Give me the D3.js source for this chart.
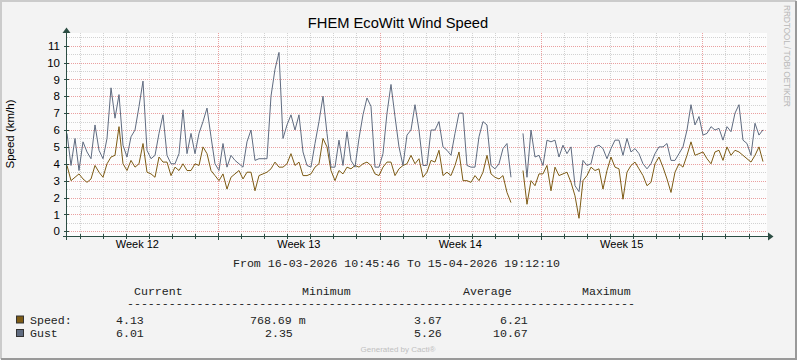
<!DOCTYPE html>
<meta charset="utf-8">
<style>
body { margin: 0; background: #f3f3f3; }
svg { display: block; }
.sans { font-family: "Liberation Sans", Arial, sans-serif; }
.mono { font-family: "Liberation Mono", "Courier New", monospace; }
</style>
<body>
<svg width="797" height="360"></svg>
<script src="https://d3js.org/d3.v7.min.js"></script>
<script>
// ---- data ----
const chartTitle = "FHEM EcoWitt Wind Speed";
const yTitle = "Speed (km/h)";
const rangeText = "From 16-03-2026 10:45:46 To 15-04-2026 19:12:10";
const startTime = new Date(2026, 2, 16, 10, 45, 46);
const endTime = new Date(2026, 3, 15, 19, 12, 10);
const stepHours = 4.1625; // sample interval of the series below

const weekLabels = ["Week 12", "Week 13", "Week 14", "Week 15"];
const weekStarts = [new Date(2026, 2, 16), new Date(2026, 2, 23), new Date(2026, 2, 30), new Date(2026, 3, 6)];
const yTicks = [0, 1, 2, 3, 4, 5, 6, 7, 8, 9, 10, 11];

const speed = [
  3.9, 3.0, 3.2, 3.4, 3.1, 2.9, 3.1, 3.9, 3.5, 3.2,
  4.0, 4.4, 4.5, 6.2, 4.0, 3.6, 4.2, 3.8, 4.0, 5.2,
  3.5, 3.4, 3.2, 4.4, 4.1, 4.1, 3.3, 3.8, 3.6, 4.0,
  3.6, 3.6, 4.0, 3.9, 5.0, 4.6, 3.6, 3.3, 3.0, 3.4,
  2.5, 3.2, 3.4, 3.6, 3.1, 3.5, 3.5, 2.4, 3.3, 3.4,
  3.5, 3.7, 4.1, 3.8, 3.8, 4.0, 4.6, 3.9, 4.1, 3.3,
  3.3, 3.4, 3.8, 4.0, 5.5, 5.0, 3.6, 3.0, 3.6, 3.4,
  3.8, 3.7, 3.9, 3.8, 4.0, 4.1, 3.9, 3.4, 3.3, 3.8,
  4.1, 4.1, 3.3, 3.7, 3.9, 4.0, 4.5, 4.0, 4.3, 3.2,
  3.5, 4.2, 4.1, 4.8, 3.3, 3.5, 3.3, 3.9, 4.7, 3.0,
  3.0, 2.9, 3.3, 3.0, 3.5, 4.5, 3.4, 3.2, 3.1, 3.3,
  2.3, 1.7, null, null, 3.6, 1.6, 3.0, 2.7, 3.4, 3.4,
  3.9, 2.4, 3.8, 3.3, 3.4, 3.5, 2.9, 2.1, 0.77, 3.0,
  3.3, 3.8, 3.6, 3.7, 2.5, 3.6, 4.4, 3.8, 3.7, 1.9,
  3.5, 3.9, 4.1, 3.7, 3.3, 2.7, 2.9, 4.0, 4.4, 3.8,
  3.1, 2.3, 3.5, 4.0, 3.8, 4.5, 5.3, 4.5, 4.6, 4.7,
  4.3, 4.0, 4.7, 4.8, 4.2, 5.0, 4.5, 4.8, 4.7, 4.5,
  4.3, 4.1, 4.5, 5.0, 4.13
];
const gust = [
  5.8, 3.9, 5.5, 3.6, 5.3, 4.7, 4.3, 6.3, 4.8, 4.3,
  5.5, 8.5, 6.7, 8.1, 5.1, 4.4, 5.6, 6.0, 7.4, 8.9,
  4.8, 4.3, 4.5, 5.8, 6.9, 4.5, 4.0, 4.0, 4.6, 7.2,
  4.6, 5.8, 4.6, 5.8, 6.5, 7.3, 5.6, 4.0, 3.6, 5.2,
  3.8, 4.5, 4.2, 4.0, 3.8, 5.3, 6.0, 4.2, 4.3, 4.3,
  4.3, 8.0, 9.6, 10.6, 5.5, 6.3, 6.9, 6.0, 6.9, 4.7,
  3.9, 3.8, 5.2, 6.5, 8.0, 5.8, 3.8, 3.8, 5.4, 3.9,
  5.9, 4.2, 3.8, 5.5, 6.9, 7.9, 7.4, 3.8, 3.8, 4.6,
  7.0, 8.7, 6.8, 5.0, 3.9, 5.7, 6.0, 7.5, 6.0, 3.9,
  3.9, 6.0, 6.0, 6.5, 5.0, 4.8, 4.5, 5.8, 7.0, 7.0,
  3.9, 3.8, 3.8, 5.6, 6.5, 6.3, 3.9, 3.7, 4.0, 4.9,
  5.2, 3.2, null, null, 5.8, 3.2, 6.0, 4.4, 4.5, 3.9,
  5.4, 5.3, 5.4, 4.4, 5.1, 4.6, 5.0, 2.7, 2.35, 4.2,
  3.9, 4.0, 5.0, 5.1, 4.9, 4.3, 4.9, 5.4, 5.4, 4.5,
  5.5, 4.7, 4.9, 4.6, 4.0, 3.7, 4.0, 4.6, 5.0, 5.0,
  5.2, 4.2, 4.2, 4.6, 5.0, 6.0, 7.5, 6.3, 6.8, 5.7,
  5.8, 6.2, 6.0, 6.1, 5.4, 6.2, 5.9, 7.0, 7.5, 5.4,
  5.2, 4.5, 6.4, 5.7, 6.01
];

const legendHeads = ["Current", "Minimum", "Average", "Maximum"];
const seriesNames = ["Speed:", "Gust"];
const seriesColors = ["#7d5b14", "#5f6b80"];
const speedStats = ["4.13", "768.69 m", "3.67", "6.21"];
const gustStats = ["6.01", "2.35", "5.26", "10.67"];

// ---- drawing ----
const svg = d3.select("svg");
const axisColor = "#2c4d43";
const crisp = v => Math.round(v) + 0.5;

const x = d3.scaleTime().domain([startTime, endTime]).range([67, 767]);
const y = d3.scaleLinear().domain([-0.28, 11.75]).range([236, 33]);

// background + shaded border
svg.append("rect").attr("width", 797).attr("height", 360).attr("fill", "#f3f3f3");
svg.append("path").attr("d", "M1,359V1H796").attr("fill", "none").attr("stroke", "#cbcbcb").attr("stroke-width", 2);
svg.append("path").attr("d", "M1,359H796V1").attr("fill", "none").attr("stroke", "#999999").attr("stroke-width", 2);

// canvas
svg.append("rect").attr("x", 67).attr("y", 33).attr("width", 700).attr("height", 203).attr("fill", "#fdfdfd");

// grid
const grid = svg.append("g");
const halfSteps = d3.range(0.5, 11.75, 1);
const days = d3.timeDay.range(d3.timeDay.ceil(startTime), endTime);
const mondays = d3.timeMonday.range(d3.timeDay.ceil(startTime), endTime);

grid.selectAll(".minorY").data(halfSteps).join("line")
  .attr("x1", 67).attr("x2", 767)
  .attr("y1", d => crisp(y(d))).attr("y2", d => crisp(y(d)))
  .attr("stroke", "#d2d2d2").attr("stroke-dasharray", "1,1");
grid.selectAll(".minorX").data(days.filter(d => d.getDay() !== 1)).join("line")
  .attr("x1", d => crisp(x(d))).attr("x2", d => crisp(x(d)))
  .attr("y1", 33).attr("y2", 236)
  .attr("stroke", "#d2d2d2").attr("stroke-dasharray", "1,1");
grid.selectAll(".majorY").data(yTicks).join("line")
  .attr("x1", 67).attr("x2", 767)
  .attr("y1", d => crisp(y(d))).attr("y2", d => crisp(y(d)))
  .attr("stroke", "#eaa0a0").attr("stroke-dasharray", "1,1");
grid.selectAll(".majorX").data(mondays).join("line")
  .attr("x1", d => crisp(x(d))).attr("x2", d => crisp(x(d)))
  .attr("y1", 33).attr("y2", 236)
  .attr("stroke", "#eaa0a0").attr("stroke-dasharray", "1,1");

// series
const toPoints = arr => arr.map((v, i) => ({ t: new Date(+startTime + i * stepHours * 3600e3), v }));
const line = d3.line().defined(d => d.v != null).x(d => x(d.t)).y(d => y(d.v));

svg.append("path").datum(toPoints(speed))
  .attr("d", line).attr("fill", "none")
  .attr("stroke", seriesColors[0]).attr("stroke-width", 1).attr("stroke-linejoin", "round");
svg.append("path").datum(toPoints(gust))
  .attr("d", line).attr("fill", "none")
  .attr("stroke", seriesColors[1]).attr("stroke-width", 1).attr("stroke-linejoin", "round");

// axes
const ax = svg.append("g").attr("stroke", axisColor);
ax.append("line").attr("x1", 63).attr("x2", 769).attr("y1", 236.5).attr("y2", 236.5);
ax.append("line").attr("x1", 66.5).attr("x2", 66.5).attr("y1", 240).attr("y2", 31);
svg.append("path").attr("d", "M768,232.5L773.5,236.5L768,240.5Z").attr("fill", axisColor);
svg.append("path").attr("d", "M62.5,33L66.5,27.5L70.5,33Z").attr("fill", axisColor);

ax.selectAll(".tx").data(days).join("line")
  .attr("x1", d => crisp(x(d))).attr("x2", d => crisp(x(d)))
  .attr("y1", d => d.getDay() === 1 ? 233 : 234).attr("y2", d => d.getDay() === 1 ? 240 : 239);
ax.selectAll(".ty").data(yTicks).join("line")
  .attr("x1", 64).attr("x2", 69)
  .attr("y1", d => crisp(y(d))).attr("y2", d => crisp(y(d)));

// axis labels
svg.selectAll(".yl").data(yTicks).join("text")
  .attr("class", "sans").attr("x", 60).attr("y", d => y(d)).attr("dy", "0.36em")
  .attr("text-anchor", "end").attr("font-size", 11.5).attr("fill", "#000")
  .text(d => d);
svg.selectAll(".wl").data(weekStarts).join("text")
  .attr("class", "sans").attr("x", d => x(d3.timeHour.offset(d, 84))).attr("y", 248)
  .attr("text-anchor", "middle").attr("font-size", 11).attr("fill", "#000")
  .text((d, i) => weekLabels[i]);

// titles
svg.append("text").attr("class", "sans").attr("x", 398).attr("y", 28)
  .attr("text-anchor", "middle").attr("font-size", 14.7).attr("fill", "#000").text(chartTitle);
svg.append("text").attr("class", "sans")
  .attr("transform", "translate(14,134) rotate(-90)")
  .attr("text-anchor", "middle").attr("font-size", 11.5).attr("fill", "#000").text(yTitle);
svg.append("text").attr("class", "sans")
  .attr("transform", "translate(784,5) rotate(90)")
  .attr("font-size", 8.5).attr("textLength", 102).attr("lengthAdjust", "spacing")
  .attr("fill", "#b8b8b8").text("RRDTOOL / TOBI OETIKER");

// legend
const mono = { size: 11.6, color: "#222" };
svg.append("text").attr("class", "mono").attr("x", 233).attr("y", 267)
  .attr("font-size", mono.size).attr("fill", mono.color).text(rangeText);

const headX = [134, 302, 463, 582];
svg.selectAll(".lh").data(legendHeads).join("text")
  .attr("class", "mono").attr("x", (d, i) => headX[i]).attr("y", 295)
  .attr("font-size", mono.size).attr("fill", mono.color).text(d => d);
svg.append("text").attr("class", "mono").attr("x", 127).attr("y", 307)
  .attr("font-size", mono.size).attr("fill", mono.color).text("-".repeat(73));

const rows = [speedStats, gustStats];
const valX = [[116, 250, 414, 500], [116, 265, 414, 493]];
rows.forEach((stats, r) => {
  const by = 323.5 + r * 13.5;
  svg.append("rect").attr("x", 16.5).attr("y", by - 7.5).attr("width", 7).attr("height", 7)
    .attr("fill", seriesColors[r]).attr("stroke", "#333");
  svg.append("text").attr("class", "mono").attr("x", 30).attr("y", by)
    .attr("font-size", mono.size).attr("fill", mono.color).text(seriesNames[r]);
  svg.selectAll(".v" + r).data(stats).join("text")
    .attr("class", "mono").attr("x", (d, i) => valX[r][i]).attr("y", by)
    .attr("font-size", mono.size).attr("fill", mono.color).text(d => d);
});

svg.append("text").attr("class", "sans").attr("x", 398).attr("y", 352)
  .attr("text-anchor", "middle").attr("font-size", 8).attr("fill", "#c0c0c0").text("Generated by Cacti®");
</script>
</body>
